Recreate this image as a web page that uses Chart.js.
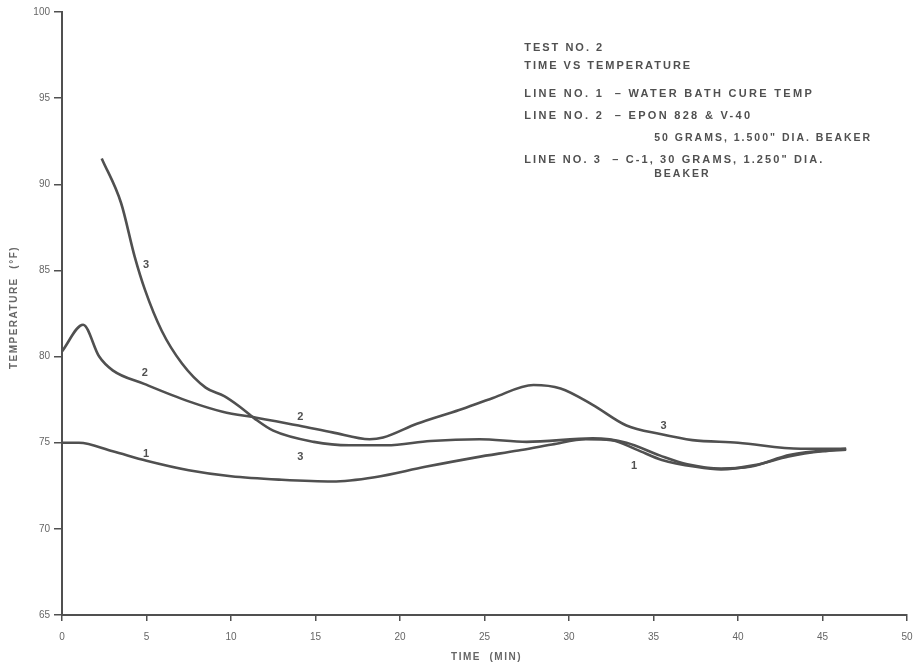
<!DOCTYPE html>
<html>
<head>
<meta charset="utf-8">
<script src="https://cdn.jsdelivr.net/npm/chart.js@4.4.0/dist/chart.umd.min.js"></script>
<style>
  html, body { margin: 0; padding: 0; background: #fff; }
  #wrap { width: 919px; height: 669px; }
</style>
</head>
<body>
<div id="wrap"><canvas id="chart"></canvas></div>
<script>
// Line 1 - water bath cure temp
const line1Time = [0, 1, 3, 5, 7.5, 10, 13, 16, 18.5, 21.5, 24.5, 27, 29, 31, 32.5, 34, 35.5, 37.5, 39, 41, 43, 45, 46.4]
const line1Temp = [75.0, 75.0, 74.5, 73.95, 73.4, 73.05, 72.85, 72.75, 73.0, 73.6, 74.15, 74.55, 74.9, 75.2, 75.15, 74.6, 74.0, 73.6, 73.45, 73.7, 74.2, 74.5, 74.6]

// Line 2 - Epon 828 & V-40
const line2Time = [0, 1.25, 2.2, 3, 4.9, 7.5, 9.5, 11.5, 14, 16, 18.2, 19, 21, 23.5, 25.5, 27.9, 29.5, 31.4, 33.4, 35.4, 37.3, 40, 43.7, 46.4]
const line2Temp = [80.3, 81.85, 80.0, 79.2, 78.4, 77.4, 76.8, 76.45, 76.0, 75.6, 75.2, 75.3, 76.1, 76.9, 77.6, 78.35, 78.15, 77.2, 76.0, 75.5, 75.15, 75.0, 74.65, 74.65]

// Line 3 - C-1
const line3Time = [2.35, 3.5, 4.3, 4.9, 5.9, 7.1, 8.5, 9.6, 10.5, 11.4, 12.5, 14.9, 17, 19.2, 21.8, 24.7, 27.5, 31.4, 33.4, 35.4, 37, 39, 40.7, 43.1, 46.4]
const line3Temp = [91.5, 88.9, 85.8, 83.9, 81.5, 79.6, 78.2, 77.7, 77.1, 76.4, 75.7, 75.05, 74.85, 74.85, 75.1, 75.2, 75.05, 75.25, 75.0, 74.25, 73.75, 73.5, 73.6, 74.3, 74.65]

// curve number labels written on the plot
const markText = ['3', '2', '1', '2', '3', '3', '1']
const markTime = [4.97, 4.9, 4.97, 14.1, 14.1, 35.6, 33.85]
const markTemp = [85.3, 79.05, 74.35, 76.5, 74.2, 76.0, 73.65]

// note block: text, indent, baseline offset from top of plot, font size, letter spacing
const noteLines = [
  ['TEST NO. 2', 0, 39, 11, 2],
  ['TIME VS TEMPERATURE', 0, 57, 11, 2],
  ['LINE NO. 1  \u2013 WATER BATH CURE TEMP', 0, 85, 11, 2.3],
  ['LINE NO. 2  \u2013 EPON 828 & V-40', 0, 107, 11, 2.3],
  ['50 GRAMS, 1.500" DIA. BEAKER', 130, 129, 10.5, 2],
  ['LINE NO. 3  \u2013 C-1, 30 GRAMS, 1.250" DIA.', 0, 151, 11, 2.1],
  ['BEAKER', 130, 165, 10.5, 2]
]

const xTitle = 'TIME  (MIN)'
const yTitle = 'TEMPERATURE  (\u00B0F)'

const ink = '#505050'
const tickColor = '#666'
const fontFamily = '"Liberation Sans", Arial, sans-serif'

function toPoints(xs, ys) {
  return xs.map((x, i) => ({ x: x, y: ys[i] }))
}

const lineStyle = {
  borderColor: ink,
  borderWidth: 2.6,
  pointRadius: 0,
  fill: false,
  cubicInterpolationMode: 'monotone'
}

// draws the curve numbers, the note block and the axis titles
const notesPlugin = {
  id: 'notes',
  afterDatasetsDraw(chart) {
    const ctx = chart.ctx
    const xs = chart.scales.x
    const ys = chart.scales.y
    const area = chart.chartArea
    ctx.save()
    ctx.fillStyle = ink
    ctx.font = 'bold 11px ' + fontFamily
    ctx.textAlign = 'center'
    ctx.textBaseline = 'middle'
    markText.forEach((t, i) => {
      ctx.fillText(t, xs.getPixelForValue(markTime[i]), ys.getPixelForValue(markTemp[i]))
    })

    ctx.textAlign = 'left'
    ctx.textBaseline = 'alphabetic'
    const left = xs.getPixelForValue(27.35)
    noteLines.forEach(n => {
      ctx.font = 'bold ' + n[3] + 'px ' + fontFamily
      ctx.letterSpacing = n[4] + 'px'
      ctx.fillText(n[0], left + n[1], area.top + n[2])
    })

    // axis titles
    ctx.fillStyle = tickColor
    ctx.font = 'bold 10px ' + fontFamily
    ctx.letterSpacing = '1.5px'
    ctx.textAlign = 'center'
    ctx.textBaseline = 'middle'
    ctx.fillText(xTitle, (area.left + area.right) / 2 + 2, area.bottom + 42)
    ctx.translate(14, (area.top + area.bottom) / 2 - 6)
    ctx.rotate(-Math.PI / 2)
    ctx.fillText(yTitle, 0, 0)
    ctx.restore()
  }
}

new Chart(document.getElementById('chart'), {
  type: 'line',
  data: {
    datasets: [
      Object.assign({ label: 'Line 1', data: toPoints(line1Time, line1Temp) }, lineStyle),
      Object.assign({ label: 'Line 2', data: toPoints(line2Time, line2Temp) }, lineStyle),
      Object.assign({ label: 'Line 3', data: toPoints(line3Time, line3Temp) }, lineStyle)
    ]
  },
  options: {
    responsive: true,
    maintainAspectRatio: false,
    animation: false,
    layout: { padding: { top: 12, right: 12, left: 0, bottom: 0 } },
    plugins: {
      legend: { display: false },
      tooltip: { enabled: false }
    },
    scales: {
      x: {
        type: 'linear',
        min: 0,
        max: 50,
        afterFit(scale) {
          scale.height = 54
          scale.paddingLeft = 0
          scale.paddingRight = 0
        },
        ticks: {
          stepSize: 5,
          color: tickColor,
          padding: 10,
          maxRotation: 0,
          font: { family: fontFamily, size: 10 }
        },
        grid: { drawOnChartArea: false, drawTicks: true, tickLength: 6, color: ink, lineWidth: 1.5 },
        border: { display: true, color: ink, width: 2 }
      },
      y: {
        min: 65,
        max: 100,
        afterFit(scale) { scale.width = 62 },
        ticks: {
          stepSize: 5,
          color: tickColor,
          padding: 4,
          font: { family: fontFamily, size: 10 }
        },
        grid: { drawOnChartArea: false, drawTicks: true, tickLength: 8, color: ink, lineWidth: 1.5 },
        border: { display: true, color: ink, width: 2 }
      }
    }
  },
  plugins: [notesPlugin]
})
</script>
</body>
</html>
